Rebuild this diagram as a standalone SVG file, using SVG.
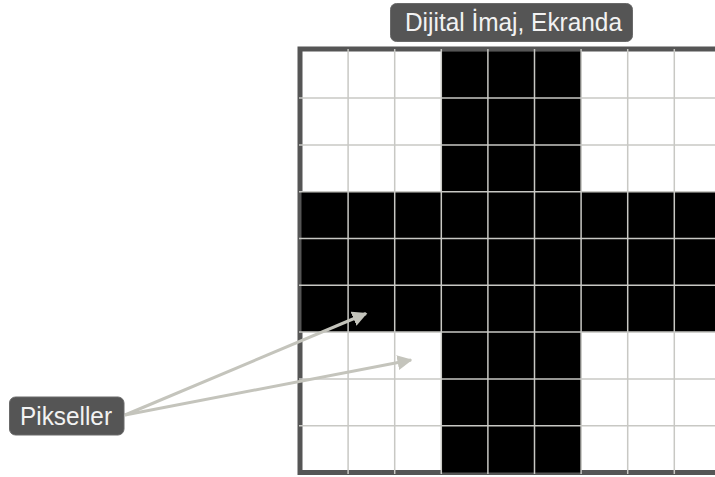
<svg xmlns="http://www.w3.org/2000/svg" width="715" height="477" viewBox="0 0 715 477">
<defs>
<style>
.lbl{fill:#555555;stroke:#6a6a6a;stroke-width:1}
.txt{font-family:"Liberation Sans",Arial,sans-serif;font-size:25px;fill:#f2f2f2;text-anchor:middle}
.px{fill:#000000}
.gl{stroke:#c8c8c4;stroke-width:1.5}
.arr{stroke:#c4c4bc;stroke-width:3;fill:none;marker-end:url(#ah)}
</style>
<marker id="ah" viewBox="0 0 10 10" refX="9" refY="5" markerWidth="5" markerHeight="5" orient="auto" markerUnits="strokeWidth">
<path d="M0,0 L10,5 L0,10 Z" fill="#c4c4bc"/>
</marker>
</defs>
<rect width="715" height="477" fill="#ffffff"/>
<g id="grid">
<rect x="300" y="49" width="430" height="423.5" fill="#ffffff" stroke="#555555" stroke-width="5"/>
<rect class="px" x="441.3" y="51.3" width="139.8" height="421.2"/>
<rect class="px" x="301.5" y="191.7" width="420" height="140.4"/>
<g>
<line class="gl" x1="348.1" y1="49" x2="348.1" y2="474"/>
<line class="gl" x1="394.7" y1="49" x2="394.7" y2="474"/>
<line class="gl" x1="441.3" y1="49" x2="441.3" y2="474"/>
<line class="gl" x1="487.9" y1="49" x2="487.9" y2="474"/>
<line class="gl" x1="534.5" y1="49" x2="534.5" y2="474"/>
<line class="gl" x1="581.1" y1="49" x2="581.1" y2="474"/>
<line class="gl" x1="627.7" y1="49" x2="627.7" y2="474"/>
<line class="gl" x1="674.3" y1="49" x2="674.3" y2="474"/>
<line class="gl" x1="299" y1="98.1" x2="715" y2="98.1"/>
<line class="gl" x1="299" y1="144.9" x2="715" y2="144.9"/>
<line class="gl" x1="299" y1="191.7" x2="715" y2="191.7"/>
<line class="gl" x1="299" y1="238.5" x2="715" y2="238.5"/>
<line class="gl" x1="299" y1="285.3" x2="715" y2="285.3"/>
<line class="gl" x1="299" y1="332.1" x2="715" y2="332.1"/>
<line class="gl" x1="299" y1="378.9" x2="715" y2="378.9"/>
<line class="gl" x1="299" y1="425.7" x2="715" y2="425.7"/>
</g>
</g>
<g id="connectors">
<line class="arr" x1="125" y1="415" x2="366" y2="313.5"/>
<line class="arr" x1="125" y1="415" x2="411" y2="360"/>
</g>
<g id="title">
<rect class="lbl" x="390.5" y="3.5" width="242" height="38" rx="6"/>
<text class="txt" x="513.5" y="30.5" textLength="217" lengthAdjust="spacingAndGlyphs">Dijital İmaj, Ekranda</text>
</g>
<g id="pikseller">
<rect class="lbl" x="9.5" y="397" width="114.5" height="38" rx="6"/>
<text class="txt" x="66" y="425" textLength="92" lengthAdjust="spacingAndGlyphs">Pikseller</text>
</g>
</svg>
